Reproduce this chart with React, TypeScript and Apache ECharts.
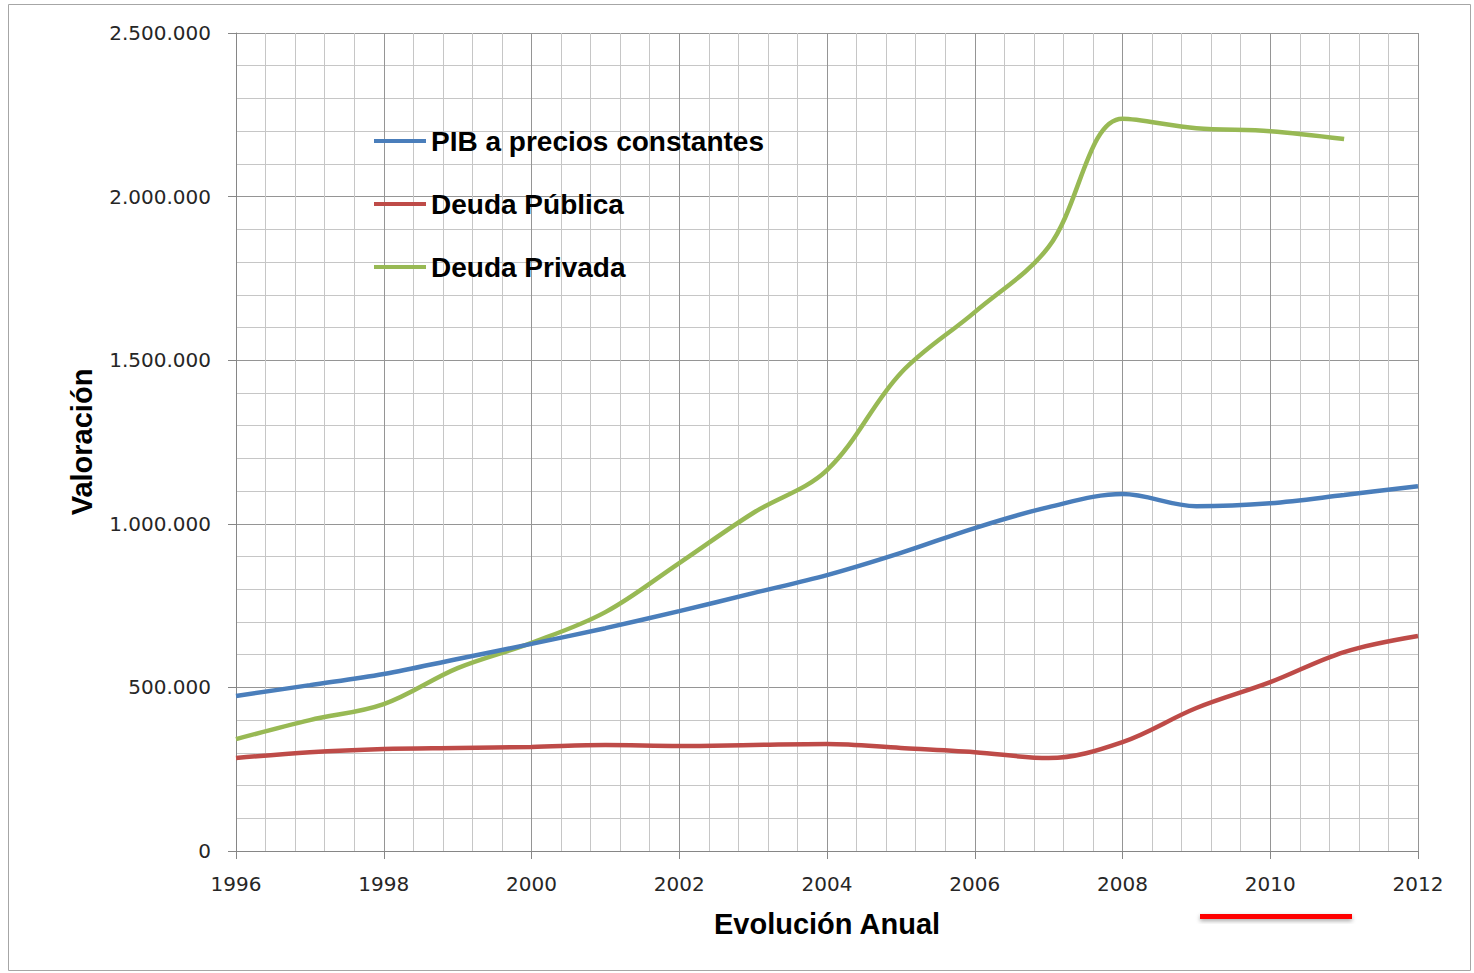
import React, { useEffect, useRef } from "react";
import * as echarts from "echarts";

const years = [1996, 1997, 1998, 1999, 2000, 2001, 2002, 2003, 2004, 2005, 2006, 2007, 2008, 2009, 2010, 2011, 2012];
const pib = [474000, 507000, 541000, 587000, 633000, 681000, 733000, 788000, 843000, 911000, 987000, 1051000, 1091000, 1054000, 1063000, 1088000, 1115000];
const deudaPublica = [284000, 302000, 312000, 315000, 318000, 324000, 321000, 324000, 327000, 315000, 302000, 284000, 333000, 437000, 516000, 608000, 657000];
const deudaPrivada = [342000, 400000, 449000, 559000, 636000, 730000, 880000, 1033000, 1164000, 1461000, 1647000, 1846000, 2238000, 2209000, 2200000, 2176000];
const seriesNames = ["PIB a precios constantes", "Deuda Pública", "Deuda Privada"];
const seriesColors = ["#4A7EBB", "#BE4B48", "#98B954"];
const yTicks = [0, 500000, 1000000, 1500000, 2000000, 2500000];

const fmtThousands = (v: number) => String(Math.round(v)).replace(/\B(?=(\d{3})+(?!\d))/g, ".");

export default function App() {
  const ref = useRef<HTMLDivElement>(null);
  useEffect(() => {
    if (!ref.current) return;
    const chart = echarts.init(ref.current, undefined, { renderer: "svg" });
    const toPairs = (vals: number[]) => vals.map((v, i) => [years[i], v]);
    const allData = [pib, deudaPublica, deudaPrivada];
    chart.setOption({
      animation: false,
      backgroundColor: "#ffffff",
      grid: { left: 236, top: 33, width: 1182, height: 818, containLabel: false },
      legend: {
        orient: "vertical",
        left: 374,
        top: 125,
        padding: 0,
        icon: "rect",
        itemWidth: 52,
        itemHeight: 4,
        itemGap: 31,
        textStyle: { fontFamily: "Liberation Sans", fontWeight: "bold", fontSize: 28, color: "#000", lineHeight: 32 },
        data: seriesNames,
      },
      xAxis: {
        type: "value",
        min: 1996,
        max: 2012,
        interval: 2,
        name: "Evolución Anual",
        nameLocation: "middle",
        nameGap: 58,
        nameTextStyle: { fontFamily: "Liberation Sans", fontWeight: "bold", fontSize: 29, color: "#000" },
        axisLine: { show: true, lineStyle: { color: "#868686", width: 1 } },
        axisTick: { show: true, length: 8, lineStyle: { color: "#868686" } },
        axisLabel: { margin: 23, fontFamily: "DejaVu Sans", fontSize: 20, color: "#262626", formatter: (v: number) => String(v) },
        splitLine: { show: true, lineStyle: { color: "#959595", width: 1 } },
        minorTick: { show: false, splitNumber: 5 },
        minorSplitLine: { show: true, lineStyle: { color: "#c6c6c6", width: 1 } },
      },
      yAxis: {
        type: "value",
        min: 0,
        max: yTicks[yTicks.length - 1],
        interval: 500000,
        name: "Valoración",
        nameLocation: "middle",
        nameRotate: 90,
        nameGap: 140,
        nameTextStyle: { fontFamily: "Liberation Sans", fontWeight: "bold", fontSize: 29, color: "#000" },
        axisLine: { show: true, lineStyle: { color: "#868686", width: 1 } },
        axisTick: { show: true, length: 8, lineStyle: { color: "#868686" } },
        axisLabel: { margin: 25, fontFamily: "DejaVu Sans", fontSize: 20, color: "#262626", formatter: (v: number) => fmtThousands(v) },
        splitLine: { show: true, lineStyle: { color: "#959595", width: 1 } },
        minorTick: { show: false, splitNumber: 5 },
        minorSplitLine: { show: true, lineStyle: { color: "#c6c6c6", width: 1 } },
      },
      series: seriesNames.map((name, i) => ({
        name,
        type: "line",
        data: toPairs(allData[i]),
        smooth: 0.35,
        symbol: "none",
        lineStyle: { color: seriesColors[i], width: 4.5 },
        itemStyle: { color: seriesColors[i] },
        z: 3 + (2 - i),
      })),
      graphic: [
        {
          type: "rect",
          shape: { x: 8.5, y: 4.5, width: 1462, height: 966 },
          style: { fill: "none", stroke: "#a6a6a6", lineWidth: 1 },
          silent: true,
        },
        {
          type: "rect",
          shape: { x: 1200, y: 914, width: 152, height: 5 },
          style: { fill: "#ff0000", shadowBlur: 4, shadowColor: "rgba(0,0,0,0.35)", shadowOffsetY: 2 },
          silent: true,
        },
      ],
    });
    return () => chart.dispose();
  }, []);
  return <div ref={ref} style={{ position: "fixed", left: 0, top: 0, width: 1474, height: 973 }} />;
}
